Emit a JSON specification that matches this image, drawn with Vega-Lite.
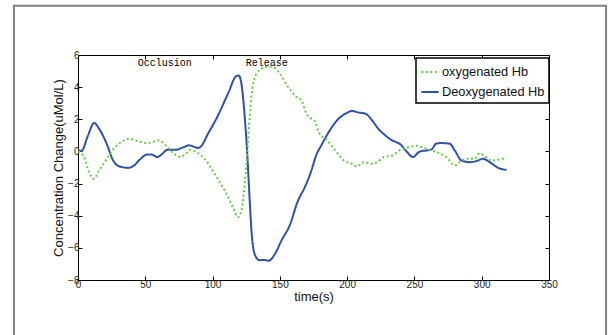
{
  "$schema": "https://vega.github.io/schema/vega-lite/v6.json",
  "width": 471,
  "height": 225,
  "autosize": {"type": "none"},
  "padding": {"left": 78, "top": 55, "right": 61, "bottom": 55},
  "background": "white",
  "config": {
    "view": {"stroke": "black", "strokeWidth": 1},
    "axis": {
      "domain": false,
      "grid": false,
      "tickSize": -4,
      "tickColor": "black",
      "labelFont": "Liberation Sans",
      "labelFontSize": 10,
      "labelColor": "#222222",
      "labelFlush": false,
      "labelOverlap": false,
      "labelPadding": 3,
      "titleFont": "Liberation Sans",
      "titleFontSize": 13,
      "titleFontWeight": "normal",
      "titleColor": "#111111"
    },
    "legend": {
      "orient": "none",
      "legendX": 338,
      "legendY": 3,
      "strokeColor": "black",
      "strokeWidth": 1.5,
      "fillColor": "white",
      "padding": 4,
      "labelFont": "Liberation Sans",
      "labelFontSize": 12.8,
      "labelColor": "#111111",
      "symbolType": "stroke",
      "symbolSize": 300,
      "symbolStrokeWidth": 2,
      "rowPadding": 3,
      "labelOffset": 2
    }
  },
  "datasets": {
    "hb": [
      {"t": 0, "v": 0, "s": "Deoxygenated Hb"},
      {"t": 3, "v": 0.06, "s": "Deoxygenated Hb"},
      {"t": 7, "v": 0.9, "s": "Deoxygenated Hb"},
      {"t": 12, "v": 1.77, "s": "Deoxygenated Hb"},
      {"t": 15.6, "v": 1.42, "s": "Deoxygenated Hb"},
      {"t": 21.8, "v": 0.375, "s": "Deoxygenated Hb"},
      {"t": 25.5, "v": -0.46, "s": "Deoxygenated Hb"},
      {"t": 29.3, "v": -0.875, "s": "Deoxygenated Hb"},
      {"t": 33, "v": -0.98, "s": "Deoxygenated Hb"},
      {"t": 37.9, "v": -1.02, "s": "Deoxygenated Hb"},
      {"t": 41.6, "v": -0.875, "s": "Deoxygenated Hb"},
      {"t": 46, "v": -0.5, "s": "Deoxygenated Hb"},
      {"t": 51.5, "v": -0.19, "s": "Deoxygenated Hb"},
      {"t": 55, "v": -0.2, "s": "Deoxygenated Hb"},
      {"t": 59, "v": -0.35, "s": "Deoxygenated Hb"},
      {"t": 62, "v": -0.2, "s": "Deoxygenated Hb"},
      {"t": 66.4, "v": 0.1, "s": "Deoxygenated Hb"},
      {"t": 72.6, "v": 0.1, "s": "Deoxygenated Hb"},
      {"t": 78, "v": 0.25, "s": "Deoxygenated Hb"},
      {"t": 82.5, "v": 0.38, "s": "Deoxygenated Hb"},
      {"t": 86, "v": 0.3, "s": "Deoxygenated Hb"},
      {"t": 89, "v": 0.22, "s": "Deoxygenated Hb"},
      {"t": 91, "v": 0.28, "s": "Deoxygenated Hb"},
      {"t": 96.6, "v": 1.1, "s": "Deoxygenated Hb"},
      {"t": 104.1, "v": 2.25, "s": "Deoxygenated Hb"},
      {"t": 111.5, "v": 3.6, "s": "Deoxygenated Hb"},
      {"t": 117.7, "v": 4.69, "s": "Deoxygenated Hb"},
      {"t": 119.4, "v": 4.72, "s": "Deoxygenated Hb"},
      {"t": 121.4, "v": 4.23, "s": "Deoxygenated Hb"},
      {"t": 123.9, "v": 2.15, "s": "Deoxygenated Hb"},
      {"t": 125.9, "v": -0.35, "s": "Deoxygenated Hb"},
      {"t": 127.6, "v": -3.06, "s": "Deoxygenated Hb"},
      {"t": 129.3, "v": -5.35, "s": "Deoxygenated Hb"},
      {"t": 131.8, "v": -6.5, "s": "Deoxygenated Hb"},
      {"t": 135, "v": -6.77, "s": "Deoxygenated Hb"},
      {"t": 138, "v": -6.75, "s": "Deoxygenated Hb"},
      {"t": 141.7, "v": -6.8, "s": "Deoxygenated Hb"},
      {"t": 146.2, "v": -6.4, "s": "Deoxygenated Hb"},
      {"t": 151.1, "v": -5.56, "s": "Deoxygenated Hb"},
      {"t": 157.3, "v": -4.6, "s": "Deoxygenated Hb"},
      {"t": 163.5, "v": -3.06, "s": "Deoxygenated Hb"},
      {"t": 168.5, "v": -2.23, "s": "Deoxygenated Hb"},
      {"t": 173.4, "v": -1.19, "s": "Deoxygenated Hb"},
      {"t": 175.2, "v": -0.7, "s": "Deoxygenated Hb"},
      {"t": 177.4, "v": -0.15, "s": "Deoxygenated Hb"},
      {"t": 180.1, "v": 0.27, "s": "Deoxygenated Hb"},
      {"t": 186.3, "v": 1.2, "s": "Deoxygenated Hb"},
      {"t": 193.7, "v": 2.04, "s": "Deoxygenated Hb"},
      {"t": 199.9, "v": 2.4, "s": "Deoxygenated Hb"},
      {"t": 203.7, "v": 2.52, "s": "Deoxygenated Hb"},
      {"t": 208.6, "v": 2.42, "s": "Deoxygenated Hb"},
      {"t": 213.6, "v": 2.35, "s": "Deoxygenated Hb"},
      {"t": 218.5, "v": 1.94, "s": "Deoxygenated Hb"},
      {"t": 223.5, "v": 1.375, "s": "Deoxygenated Hb"},
      {"t": 228.4, "v": 1.0, "s": "Deoxygenated Hb"},
      {"t": 233.4, "v": 0.69, "s": "Deoxygenated Hb"},
      {"t": 236.5, "v": 0.58, "s": "Deoxygenated Hb"},
      {"t": 239.6, "v": 0.44, "s": "Deoxygenated Hb"},
      {"t": 244.5, "v": -0.04, "s": "Deoxygenated Hb"},
      {"t": 249, "v": -0.35, "s": "Deoxygenated Hb"},
      {"t": 253.2, "v": -0.04, "s": "Deoxygenated Hb"},
      {"t": 256, "v": 0.03, "s": "Deoxygenated Hb"},
      {"t": 259.4, "v": 0.06, "s": "Deoxygenated Hb"},
      {"t": 263.1, "v": 0.15, "s": "Deoxygenated Hb"},
      {"t": 266, "v": 0.48, "s": "Deoxygenated Hb"},
      {"t": 270, "v": 0.52, "s": "Deoxygenated Hb"},
      {"t": 276.2, "v": 0.48, "s": "Deoxygenated Hb"},
      {"t": 280, "v": 0.06, "s": "Deoxygenated Hb"},
      {"t": 284.9, "v": -0.56, "s": "Deoxygenated Hb"},
      {"t": 291.1, "v": -0.67, "s": "Deoxygenated Hb"},
      {"t": 296, "v": -0.6, "s": "Deoxygenated Hb"},
      {"t": 301, "v": -0.46, "s": "Deoxygenated Hb"},
      {"t": 306, "v": -0.67, "s": "Deoxygenated Hb"},
      {"t": 312.2, "v": -1.02, "s": "Deoxygenated Hb"},
      {"t": 318.4, "v": -1.15, "s": "Deoxygenated Hb"},
      {"t": 0, "v": 0, "s": "oxygenated Hb"},
      {"t": 4.5, "v": -0.35, "s": "oxygenated Hb"},
      {"t": 8.2, "v": -1.29, "s": "oxygenated Hb"},
      {"t": 11.9, "v": -1.71, "s": "oxygenated Hb"},
      {"t": 15.6, "v": -1.19, "s": "oxygenated Hb"},
      {"t": 20.6, "v": -0.56, "s": "oxygenated Hb"},
      {"t": 25.5, "v": 0.06, "s": "oxygenated Hb"},
      {"t": 30.5, "v": 0.48, "s": "oxygenated Hb"},
      {"t": 37.9, "v": 0.79, "s": "oxygenated Hb"},
      {"t": 44.1, "v": 0.65, "s": "oxygenated Hb"},
      {"t": 51.5, "v": 0.52, "s": "oxygenated Hb"},
      {"t": 56, "v": 0.6, "s": "oxygenated Hb"},
      {"t": 60.2, "v": 0.69, "s": "oxygenated Hb"},
      {"t": 65.2, "v": 0.375, "s": "oxygenated Hb"},
      {"t": 71.4, "v": -0.15, "s": "oxygenated Hb"},
      {"t": 76.3, "v": -0.35, "s": "oxygenated Hb"},
      {"t": 80, "v": -0.15, "s": "oxygenated Hb"},
      {"t": 83.8, "v": 0.1, "s": "oxygenated Hb"},
      {"t": 89, "v": -0.1, "s": "oxygenated Hb"},
      {"t": 94.1, "v": -0.46, "s": "oxygenated Hb"},
      {"t": 101.6, "v": -1.4, "s": "oxygenated Hb"},
      {"t": 109, "v": -2.44, "s": "oxygenated Hb"},
      {"t": 115.2, "v": -3.48, "s": "oxygenated Hb"},
      {"t": 118.9, "v": -4.1, "s": "oxygenated Hb"},
      {"t": 121.4, "v": -3.69, "s": "oxygenated Hb"},
      {"t": 123.9, "v": -2.02, "s": "oxygenated Hb"},
      {"t": 125.9, "v": 0.06, "s": "oxygenated Hb"},
      {"t": 127.6, "v": 2.15, "s": "oxygenated Hb"},
      {"t": 130.1, "v": 4.23, "s": "oxygenated Hb"},
      {"t": 133.8, "v": 4.96, "s": "oxygenated Hb"},
      {"t": 140, "v": 5.27, "s": "oxygenated Hb"},
      {"t": 144.9, "v": 5.23, "s": "oxygenated Hb"},
      {"t": 149.9, "v": 4.85, "s": "oxygenated Hb"},
      {"t": 156.1, "v": 4.02, "s": "oxygenated Hb"},
      {"t": 162.3, "v": 3.4, "s": "oxygenated Hb"},
      {"t": 166, "v": 3.19, "s": "oxygenated Hb"},
      {"t": 169.7, "v": 2.35, "s": "oxygenated Hb"},
      {"t": 173.4, "v": 2.04, "s": "oxygenated Hb"},
      {"t": 175.5, "v": 1.95, "s": "oxygenated Hb"},
      {"t": 178.9, "v": 1.2, "s": "oxygenated Hb"},
      {"t": 185.1, "v": 0.69, "s": "oxygenated Hb"},
      {"t": 191.3, "v": 0.06, "s": "oxygenated Hb"},
      {"t": 197.5, "v": -0.56, "s": "oxygenated Hb"},
      {"t": 203.7, "v": -0.77, "s": "oxygenated Hb"},
      {"t": 207.4, "v": -0.94, "s": "oxygenated Hb"},
      {"t": 212.3, "v": -0.67, "s": "oxygenated Hb"},
      {"t": 218.5, "v": -0.77, "s": "oxygenated Hb"},
      {"t": 222.3, "v": -0.67, "s": "oxygenated Hb"},
      {"t": 227.2, "v": -0.35, "s": "oxygenated Hb"},
      {"t": 233.4, "v": -0.25, "s": "oxygenated Hb"},
      {"t": 239.6, "v": 0.1, "s": "oxygenated Hb"},
      {"t": 245.8, "v": 0.27, "s": "oxygenated Hb"},
      {"t": 252, "v": 0.35, "s": "oxygenated Hb"},
      {"t": 255.7, "v": 0.27, "s": "oxygenated Hb"},
      {"t": 260.7, "v": 0.1, "s": "oxygenated Hb"},
      {"t": 266.3, "v": -0.04, "s": "oxygenated Hb"},
      {"t": 273.7, "v": -0.35, "s": "oxygenated Hb"},
      {"t": 279.9, "v": -0.875, "s": "oxygenated Hb"},
      {"t": 283.6, "v": -0.67, "s": "oxygenated Hb"},
      {"t": 288.6, "v": -0.46, "s": "oxygenated Hb"},
      {"t": 294.8, "v": -0.46, "s": "oxygenated Hb"},
      {"t": 298.5, "v": -0.1, "s": "oxygenated Hb"},
      {"t": 302.2, "v": -0.31, "s": "oxygenated Hb"},
      {"t": 307.2, "v": -0.56, "s": "oxygenated Hb"},
      {"t": 312.1, "v": -0.52, "s": "oxygenated Hb"},
      {"t": 318.3, "v": -0.4, "s": "oxygenated Hb"}
    ],
    "notes": [
      {"t": 64.4, "v": 5.5, "label": "Occlusion"},
      {"t": 140.2, "v": 5.5, "label": "Release"}
    ]
  },
  "layer": [
    {
      "data": {"values": [{}]},
      "mark": {"type": "rect", "filled": false, "stroke": "#808080", "strokeWidth": 2},
      "encoding": {
        "x": {"datum": -47.6, "type": "quantitative", "scale": {"domain": [0, 350], "nice": false}, "axis": null},
        "x2": {"datum": 392.4},
        "y": {"datum": 9.06, "type": "quantitative", "scale": {"domain": [-8, 6], "nice": false}, "axis": null},
        "y2": {"datum": -14}
      }
    },
    {
      "data": {"name": "hb"},
      "mark": {"type": "line", "strokeWidth": 2, "interpolate": "monotone", "strokeCap": "butt"},
      "encoding": {
        "x": {
          "field": "t", "type": "quantitative",
          "scale": {"domain": [0, 350], "nice": false},
          "axis": {"orient": "bottom", "title": "time(s)", "values": [0, 50, 100, 150, 200, 250, 300, 350], "titlePadding": 1}
        },
        "y": {
          "field": "v", "type": "quantitative",
          "scale": {"domain": [-8, 6], "nice": false},
          "axis": {"orient": "left", "title": "Concentration Change(uMol/L)", "values": [-8, -6, -4, -2, 0, 2, 4, 6], "titlePadding": 2}
        },
        "color": {
          "field": "s", "type": "nominal",
          "scale": {"domain": ["oxygenated Hb", "Deoxygenated Hb"], "range": ["#66cc44", "#2f52a6"]},
          "legend": {"title": null}
        },
        "strokeDash": {
          "field": "s", "type": "nominal",
          "scale": {"domain": ["oxygenated Hb", "Deoxygenated Hb"], "range": [[2, 2.5], [1, 0]]},
          "legend": {"title": null}
        }
      }
    },
    {
      "data": {"name": "notes"},
      "mark": {"type": "text", "font": "Liberation Mono", "fontSize": 10, "color": "#000000", "align": "center", "baseline": "middle"},
      "encoding": {
        "x": {
          "field": "t", "type": "quantitative",
          "scale": {"domain": [0, 350], "nice": false},
          "axis": {"orient": "top", "title": null, "labels": false, "values": [0, 50, 100, 150, 200, 250, 300, 350]}
        },
        "y": {
          "field": "v", "type": "quantitative",
          "scale": {"domain": [-8, 6], "nice": false},
          "axis": {"orient": "right", "title": null, "labels": false, "values": [-8, -6, -4, -2, 0, 2, 4, 6]}
        },
        "text": {"field": "label", "type": "nominal"}
      }
    }
  ],
  "resolve": {"axis": {"x": "independent", "y": "independent"}}
}
